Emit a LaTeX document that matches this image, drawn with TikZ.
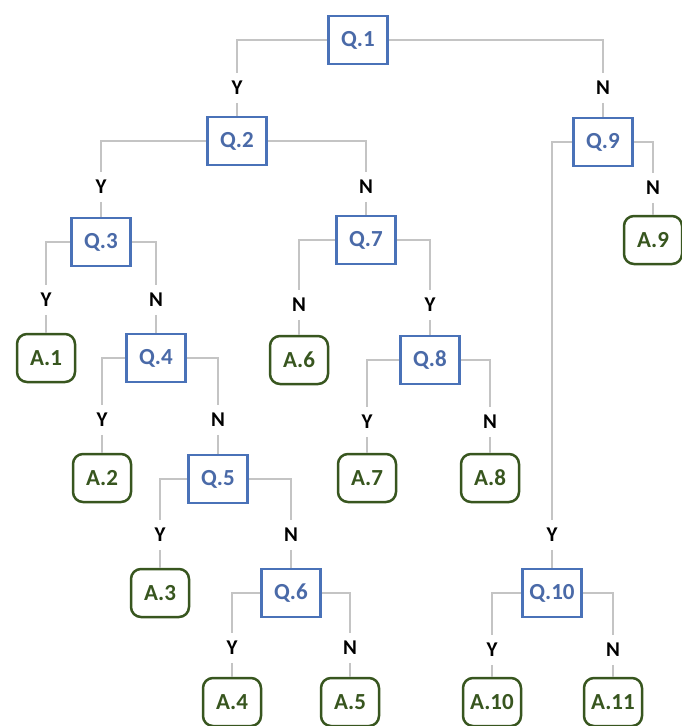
\documentclass[tikz,border=0pt]{standalone}
\usepackage{fontspec}
\setmainfont{Carlito}
\definecolor{qblue}{HTML}{4A72B8}
\definecolor{qtext}{HTML}{4A6AA8}
\definecolor{agreen}{HTML}{38561F}
\definecolor{linegray}{HTML}{C4C4C4}
\tikzset{
  qbox/.style={draw=qblue, line width=2.8pt, minimum width=59pt, minimum height=48pt, inner sep=0pt,
    text=qtext, font=\bfseries\fontsize{23}{23}\selectfont, fill=white},
  abox/.style={draw=agreen, line width=2.5pt, rounded corners=10pt, minimum width=58pt, minimum height=48pt, inner sep=0pt,
    text=agreen, font=\bfseries\fontsize{23}{23}\selectfont, fill=white},
  lab/.style={font=\bfseries\fontsize{21}{21}\selectfont, text=black, inner xsep=2pt, inner ysep=8pt, text height=13.5pt, text depth=0pt},
  conn/.style={draw=linegray, line width=1.4pt}
}
\begin{document}
\begin{tikzpicture}[x=1pt,y=-1pt]
\useasboundingbox (0,0) rectangle (682,726);
% question nodes
\node[qbox] (Q1) at (358,40) {Q.1};
\node[qbox] (Q2) at (237,141) {Q.2};
\node[qbox] (Q9) at (603,142) {Q.9};
\node[qbox] (Q3) at (101,242) {Q.3};
\node[qbox] (Q7) at (366,240) {Q.7};
\node[qbox] (Q4) at (156,358) {Q.4};
\node[qbox] (Q8) at (430,360) {Q.8};
\node[qbox] (Q5) at (218,479) {Q.5};
\node[qbox] (Q6) at (291,593) {Q.6};
\node[qbox] (Q10) at (552,593) {Q.10};
% answer nodes
\node[abox] (A9) at (653,240) {A.9};
\node[abox] (A1) at (46,358) {A.1};
\node[abox] (A6) at (299,360) {A.6};
\node[abox] (A2) at (102,478) {A.2};
\node[abox] (A7) at (367,478) {A.7};
\node[abox] (A8) at (490,478) {A.8};
\node[abox] (A3) at (160,593) {A.3};
\node[abox] (A4) at (232,702) {A.4};
\node[abox] (A5) at (350,702) {A.5};
\node[abox] (A10) at (492,702) {A.10};
\node[abox] (A11) at (613,702) {A.11};
% labels
\node[lab] (l1y) at (237,88) {Y};
\node[lab] (l1n) at (603,88) {N};
\node[lab] (l2y) at (101,187) {Y};
\node[lab] (l2n) at (366,187) {N};
\node[lab] (l9y) at (552,535) {Y};
\node[lab] (l9n) at (653,188) {N};
\node[lab] (l3y) at (46,300) {Y};
\node[lab] (l3n) at (156,300) {N};
\node[lab] (l7n) at (299,305) {N};
\node[lab] (l7y) at (430,305) {Y};
\node[lab] (l4y) at (102,420) {Y};
\node[lab] (l4n) at (218,420) {N};
\node[lab] (l8y) at (367,422) {Y};
\node[lab] (l8n) at (490,422) {N};
\node[lab] (l5y) at (160,535) {Y};
\node[lab] (l5n) at (291,535) {N};
\node[lab] (l6y) at (232,648) {Y};
\node[lab] (l6n) at (350,648) {N};
\node[lab] (l10y) at (492,650) {Y};
\node[lab] (l10n) at (613,650) {N};
% connectors
\foreach \p/\l/\c/\s in {Q1/l1y/Q2/west, Q1/l1n/Q9/east, Q2/l2y/Q3/west, Q2/l2n/Q7/east,
  Q9/l9y/Q10/west, Q9/l9n/A9/east, Q3/l3y/A1/west, Q3/l3n/Q4/east, Q7/l7n/A6/west, Q7/l7y/Q8/east,
  Q4/l4y/A2/west, Q4/l4n/Q5/east, Q8/l8y/A7/west, Q8/l8n/A8/east, Q5/l5y/A3/west, Q5/l5n/Q6/east,
  Q6/l6y/A4/west, Q6/l6n/A5/east, Q10/l10y/A10/west, Q10/l10n/A11/east}{
  \draw[conn] (\p.\s) -| (\l.north);
  \draw[conn] (\l.south) -- (\c.north);
}
\end{tikzpicture}
\end{document}
